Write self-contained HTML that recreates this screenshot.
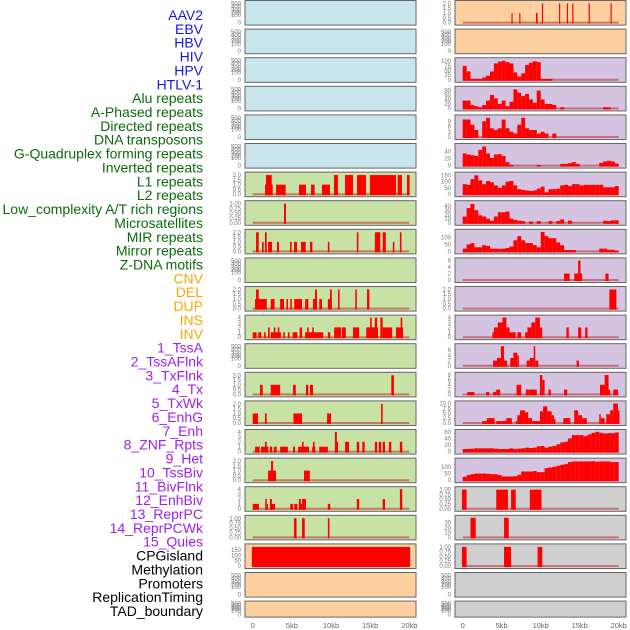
<!DOCTYPE html>
<html><head><meta charset="utf-8"><style>
body{margin:0;background:#fff}
svg{display:block}
.lab{font-family:"Liberation Sans",sans-serif;font-size:14px}
.tk{font-family:"Liberation Sans",sans-serif;font-size:6px;fill:#777}
.ax{font-family:"Liberation Sans",sans-serif;font-size:7.5px;fill:#666}
</style></head><body>
<svg id="c" width="630" height="630" xmlns="http://www.w3.org/2000/svg"></svg>
<script>
const labelNames = ["AAV2","EBV","HBV","HIV","HPV","HTLV-1","Alu repeats","A-Phased repeats","Directed repeats","DNA transposons","G-Quadruplex forming repeats","Inverted repeats","L1 repeats","L2 repeats","Low_complexity A/T rich regions","Microsatellites","MIR repeats","Mirror repeats","Z-DNA motifs","CNV","DEL","DUP","INS","INV","1_TssA","2_TssAFlnk","3_TxFlnk","4_Tx","5_TxWk","6_EnhG","7_Enh","8_ZNF_Rpts","9_Het","10_TssBiv","11_BivFlnk","12_EnhBiv","13_ReprPC","14_ReprPCWk","15_Quies","CPGisland","Methylation","Promoters","ReplicationTiming","TAD_boundary"];
const labelGroups = [6,13,5,15,5];
const xTickKb = [0,5,10,15,20];
const xTickLabels = ["0","5kb","10kb","15kb","20kb"];

// Left column bars [startKb, endKb, value]
const L6 = [[1.57,2.55,1],[1.7,2.43,2],[2.98,4.21,1],[5.91,6.81,1],[7.45,7.91,1],[8.85,9.87,1],[10.38,10.89,2],[11.79,12.81,2],[13.32,14.47,2],[14.98,18.3,2],[18.51,19.06,2],[19.7,20.04,2]];
const L7 = [[4.0,4.25,1]];
const L8 = [[0.43,0.77,2],[1.19,1.4,1],[1.57,1.79,2],[1.96,2.47,1],[3.1,3.36,1],[4.77,4.98,1],[5.28,5.66,1],[6.17,6.77,1],[7.32,7.62,1],[9.6,9.8,1],[13.3,13.5,2],[15.6,16.3,2],[16.6,17.0,2],[17.9,18.1,1],[18.8,19.0,2]];
const L10 = [[0.3,1.8,1],[0.43,0.77,2],[2.3,2.8,1],[3.5,4.0,1],[4.3,4.5,1],[4.8,5.0,1],[5.3,6.3,1],[6.7,7.1,1],[7.7,8.2,1],[7.96,8.2,2],[8.5,8.85,1],[9.6,10.1,1],[9.87,10.1,2],[10.9,11.1,2],[13.1,13.3,2],[14.6,14.9,2]];
const L11 = [[0,0.5,1],[0.7,1.1,1],[1.45,1.65,1],[1.96,2.17,2],[2.3,3.6,1],[2.7,2.9,2],[3.2,3.4,2],[3.9,4.1,1],[4.5,4.7,1],[5.1,5.7,1],[6.0,6.3,2],[6.7,9.0,1],[6.95,7.15,2],[7.6,7.8,2],[9.6,9.9,1],[10.4,11.3,2],[11.4,11.9,2],[12.8,13.6,2],[14.5,16.0,2],[15.0,15.2,4],[15.6,15.9,4],[16.3,16.6,4],[16.6,17.8,2],[18.3,19.2,2],[18.9,19.1,4]];
const L13 = [[0.93,1.28,1],[2.3,3.5,1],[5.15,5.5,1],[6.8,7.1,1],[7.3,7.7,1],[17.7,18.04,2]];
const L14 = [[0,0.68,1],[1.57,1.79,1],[5.2,6.3,1],[9.5,10.0,1],[16.4,16.6,2]];
const L15 = [[0.3,0.9,1],[1.06,2.0,1],[1.57,1.79,2],[2.2,2.5,1],[2.7,3.06,1],[3.5,4.5,1],[5.15,5.4,1],[5.8,7.2,1],[6.3,6.5,2],[7.6,8.0,1],[7.7,7.9,2],[8.5,9.6,1],[10.5,10.9,2],[10.5,10.75,4],[11.8,12.3,2],[13.3,13.6,2],[14.0,14.3,2],[15.6,15.9,2],[16.1,16.4,2],[16.6,16.9,2],[17.4,17.7,2],[18.8,19.1,2]];
const L16 = [[1.96,2.98,1],[2.34,2.6,2],[6.55,7.3,1]];
const L17 = [[0,0.8,1],[1.6,1.8,2],[1.8,1.95,1],[2.2,2.85,1],[2.2,2.45,2],[4.8,5.15,1],[5.3,5.7,1],[5.9,6.8,1],[5.9,6.15,2],[6.3,6.8,2],[9.6,9.9,1],[13.3,13.6,2],[16.6,16.9,2],[18.8,19.1,4]];
const L18 = [[5.27,5.6,1],[6.3,6.65,1],[9.6,9.8,1]];
const L19 = [[-0.1,20.1,180]];

// Right column
const R0 = [[6.25,6.4,1],[7.25,7.4,1],[9.4,9.6,1],[10.15,10.3,2],[12.35,12.5,2],[13.35,13.5,2],[14.05,14.2,2],[16.15,16.3,2],[18.95,19.1,2]];
const R2 = [75,45,5,5,5,12,22,45,88,98,102,95,88,40,18,35,80,92,100,95,5,5,5,0,0,0,0,0,0,0,0,0,0,0,0,0,0,0,0,0];
const R3 = [35,35,15,10,5,15,35,60,45,20,35,10,30,85,70,55,65,40,25,80,40,20,20,15,0,5,0,0,0,0,0,0,0,0,0,0,5,5,0,0];
const R4 = [10,10,7,4,0,9,11,5,4,5,10,5,3,2,7,11,5,4,4,2,3,2,0,2,0,0,0,0,0,0,0,0,0,0,0,0,0,0,0,0];
const R5 = [35,32,30,28,45,55,35,22,32,33,28,10,2,0,0,0,0,0,0,2,0,0,0,0,0,5,5,7,10,5,0,0,0,0,0,8,12,14,12,6];
const R6 = [80,75,120,150,110,80,105,95,70,50,70,100,105,70,40,35,30,25,30,45,60,15,40,40,45,70,75,65,80,80,70,75,75,75,75,75,55,55,55,65];
const R7 = [15,35,45,30,18,15,10,5,15,25,25,27,10,7,5,4,0,3,0,4,0,0,4,0,4,8,0,5,0,0,0,0,0,0,0,0,5,4,6,6];
const R8 = [20,50,60,30,30,45,40,20,20,18,20,25,35,80,110,80,60,60,45,30,140,110,95,95,65,45,10,10,10,0,0,0,0,0,0,20,20,12,12,5];
const R9 = [[13.0,13.7,2],[14.3,14.8,2],[14.8,15.1,6],[15.1,15.3,2],[18.3,18.7,2]];
const R10 = [[18.8,19.7,2]];
const R11 = [[3.8,4.0,1],[4.0,4.5,2],[4.5,5.1,3],[5.1,5.6,4],[5.6,6.0,2],[6.0,6.8,1],[7.0,7.5,1],[8.0,8.3,1],[8.3,8.8,2],[8.8,9.3,3],[9.3,9.9,4],[9.9,10.2,2],[13.3,13.6,2],[14.8,15.2,2],[15.7,16.0,2]];
const R12 = [[3.9,4.4,2],[4.4,4.9,3],[4.9,5.3,7.5],[5.3,5.7,2],[6.1,6.5,3],[6.5,7.0,5],[7.0,7.2,4],[8.2,8.6,2],[8.6,9.1,3],[9.1,9.3,7.5],[9.3,9.7,2],[14.6,14.9,2]];
const R13 = [[0.6,1.5,1],[3.0,3.4,1],[3.9,4.3,1],[4.3,4.8,2],[6.9,7.5,4],[8.1,8.4,2],[8.4,9.5,2],[9.9,10.2,8],[10.2,10.5,6],[11.0,11.3,2],[13.0,13.4,2],[17.6,18.2,4],[18.2,18.7,8],[18.7,18.9,2],[19.3,19.9,2]];
const R14 = [[2.5,3.1,1],[3.1,4.1,2.5],[4.3,6.3,1],[5.6,6.3,2.5],[6.8,7.0,1],[7.0,7.35,4],[7.35,8.0,6.5],[8.0,8.4,5.5],[8.4,8.9,2.5],[8.9,9.9,1],[9.9,10.3,6],[10.3,10.85,8.5],[10.85,11.4,6],[11.4,11.7,4],[11.7,11.9,2],[12.9,13.8,2.5],[14.3,14.8,6.5],[14.8,15.3,4],[15.3,15.9,2.5],[17.5,17.7,4.5],[17.7,18.2,2.5],[18.4,18.9,4.5],[18.9,19.3,6.5],[19.3,19.9,10],[19.9,20.1,6.5]];
const R15 = [8,8,9,10,10,10,10,10,9,8,8,8,10,8,9,10,12,11,12,16,17,12,15,17,22,28,30,40,50,50,50,47,52,57,60,57,55,56,56,58];
const R16 = [25,38,45,50,50,50,48,45,45,38,28,28,28,30,40,65,65,65,68,60,60,90,95,100,108,115,120,135,140,140,140,140,140,142,138,140,140,140,135,135];
const R17 = [[-0.1,0.5,1],[4.3,5.8,1],[6.2,6.8,1],[8.6,10.1,1]];
const R18 = [[1.0,1.67,40],[5.3,5.9,40]];
const R19 = [[-0.1,0.5,1],[5.3,6.2,1],[9.6,10.2,1]];

const BLUE="#c8e4ec",GREEN="#c8e1a4",ORANGE="#fecf9f",PURPLE="#d4c4e2",GRAY="#cfcfcf";
const T2=[[0,"0.0"],[0.5,"0.5"],[1,"1.0"],[1.5,"1.5"],[2,"2.0"]];
const T1=[[0,"0.00"],[0.25,"0.25"],[0.5,"0.50"],[0.75,"0.75"],[1,"1.00"]];
const T4=[[0,"0"],[1,"1"],[2,"2"],[3,"3"],[4,"4"]];
const EMPTY=null;
function leftCfg(r){
  if(r<6) return {bg:BLUE,data:EMPTY};
  const m={6:[L6,2.1,T2],7:[L7,1.05,T1],8:[L8,2.1,T2],9:[null],10:[L10,2.1,T2],11:[L11,4.1,T4],12:[null],13:[L13,2.1,T2],14:[L14,2.1,T2],15:[L15,4.1,T4],16:[L16,2.1,T2],17:[L17,4.1,T4],18:[L18,1.05,T1],19:[L19,190,[[0,"0"],[50,"50"],[100,"100"],[150,"150"]]]};
  const bg = r<=18?GREEN:ORANGE;
  const e=m[r]; if(!e||!e[0]) return {bg,data:EMPTY};
  return {bg,data:e[0],ymax:e[1],ticks:e[2]};
}
function rightCfg(r){
  const bg = r<2?ORANGE:(r<=16?PURPLE:GRAY);
  const m={0:[R0,2.1,T2],2:[R2,108,[[0,"0"],[25,"25"],[50,"50"],[75,"75"],[100,"100"]]],3:[R3,90,[[0,"0"],[20,"20"],[40,"40"],[60,"60"],[80,"80"]]],4:[R4,11.5,[[0,"0"],[3,"3"],[6,"6"],[9,"9"]]],5:[R5,58,[[0,"0"],[20,"20"],[40,"40"]]],6:[R6,160,[[0,"0"],[50,"50"],[100,"100"],[150,"150"]]],7:[R7,48,[[0,"0"],[10,"10"],[20,"20"],[30,"30"],[40,"40"]]],8:[R8,145,[[0,"0"],[50,"50"],[100,"100"]]],9:[R9,6.2,[[0,"0"],[2,"2"],[4,"4"],[6,"6"]]],10:[R10,2.1,T2],11:[R11,4.1,T4],12:[R12,7.7,[[0,"0"],[2,"2"],[4,"4"],[6,"6"]]],13:[R13,8.3,[[0,"0"],[2,"2"],[4,"4"],[6,"6"],[8,"8"]]],14:[R14,10.3,[[0,"0.0"],[2.5,"2.5"],[5,"5.0"],[7.5,"7.5"],[10,"10.0"]]],15:[R15,61,[[0,"0"],[20,"20"],[40,"40"],[60,"60"]]],16:[R16,150,[[0,"0"],[50,"50"],[100,"100"]]],17:[R17,1.05,T1],18:[R18,41,[[0,"0"],[10,"10"],[20,"20"],[30,"30"]]],19:[R19,1.05,T1]};
  const e=m[r]; if(!e) return {bg,data:EMPTY};
  return {bg,data:e[0],ymax:e[1],ticks:e[2]};
}

const NS="http://www.w3.org/2000/svg";
const svg=document.getElementById('c');
function mk(tag,attrs,parent){const el=document.createElementNS(NS,tag);for(const k in attrs)el.setAttribute(k,attrs[k]);(parent||svg).appendChild(el);return el;}

// labels
const colors=["#1515e6","#0b6b0b","#ffa500","#a020f0","#000000"];
const step=(611-15)/(labelNames.length-1);
let idx=0;
labelGroups.forEach((n,g)=>{for(let j=0;j<n;j++){const t=mk('text',{x:203,y:15+idx*step+5,'text-anchor':'end',class:'lab',fill:colors[g]});


t.textContent=labelNames[idx];idx++;}});

const cols=[{px:245,pw:171,x0:252.7,k:7.83,tx:241,cfg:leftCfg},{px:455,pw:171,x0:462.7,k:7.8,tx:451,cfg:rightCfg}];
for(let ci=0;ci<2;ci++){
  const C=cols[ci];
  const xs=kb=>C.x0+kb*C.k;
  for(let r=0;r<22;r++){
    const top=0.5+28.6*r, h=r===21?16:24.6;
    const cfg=C.cfg(r);
    const g=mk('g',{});
    
    
    mk('rect',{x:C.px,y:top,width:C.pw,height:h,fill:cfg.bg,stroke:'#666','stroke-width':1},g);
    const base=top+h-2.5, ptop=top+2;
    if(cfg.data===EMPTY){
      const fr=[[0,"0"],[0.37,"100"],[0.5,"200"],[0.62,"300"],[0.8,"400"],[0.95,"500"]];
      fr.forEach(([f,l])=>{const t=mk('text',{x:C.tx,y:base-f*(base-ptop)+2,'text-anchor':'end',class:'tk'},g);t.textContent=l;});
    } else {
      const ys=v=>base-(v/cfg.ymax)*(base-ptop);
      cfg.ticks.forEach(([v,l])=>{const t=mk('text',{x:C.tx,y:ys(v)+2,'text-anchor':'end',class:'tk'},g);t.textContent=l;});
      mk('line',{x1:xs(0),x2:xs(20),y1:base,y2:base,stroke:'rgba(190,40,40,0.55)','stroke-width':2},g);
      let bars=cfg.data;
      if(typeof bars[0]==='number') bars=bars.map((v,i)=>[i*0.5,(i+1)*0.5,v]);
      bars.forEach(([a,b,v])=>{if(v<=0)return;const y=ys(v);
        const rc=mk('rect',{x:xs(a),y:y,width:Math.max(1,xs(b)-xs(a)),height:base-y+1,fill:'#ff0000'},g);
        
        });
    }
  }
  xTickKb.forEach((kb,i)=>{const t=mk('text',{x:xs(kb),y:628,'text-anchor':'middle',class:'ax'});
    
    
    t.textContent=xTickLabels[i];});
}
</script>
</body></html>
